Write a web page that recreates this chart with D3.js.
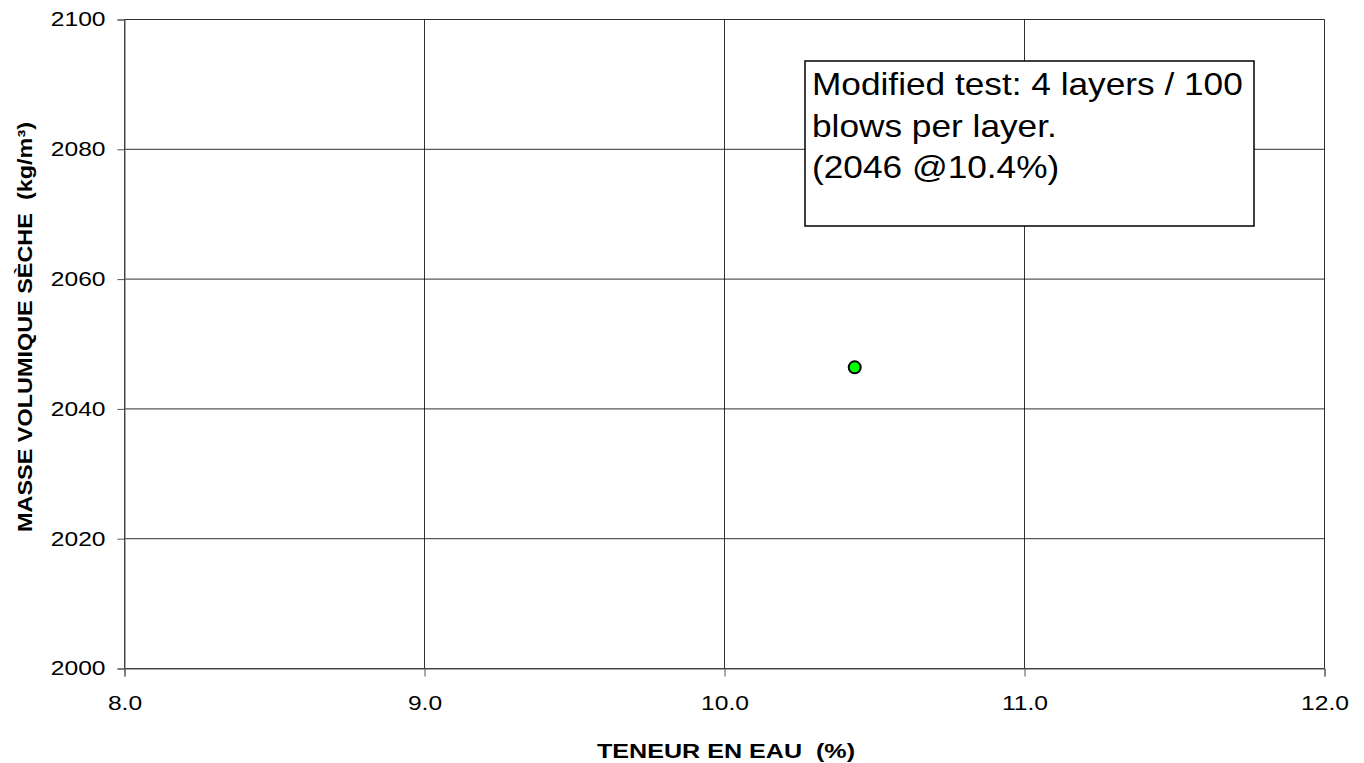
<!DOCTYPE html>
<html><head><meta charset="utf-8">
<script src="https://cdn.jsdelivr.net/npm/d3@7"></script>
<style>body{margin:0;background:#fff}svg{display:block}</style>
</head><body>
<svg id="c" width="1364" height="763"></svg>
<script>
const xTicks = [8.0, 9.0, 10.0, 11.0, 12.0];
const yTicks = [2000, 2020, 2040, 2060, 2080, 2100];
const waterContent = [10.434];
const dryDensity = [2046.4];
const noteLines = ["Modified test: 4 layers / 100", "blows per layer.", "(2046 @10.4%)"];
const xTitle = "TENEUR EN EAU\u00a0\u00a0(%)";
const yTitle = "MASSE VOLUMIQUE SÈCHE\u00a0\u00a0(kg/m³)";

const svg = d3.select("#c");
const L = 124.5, R = 1324.5, T = 19.5, B = 668.5;
const x = d3.scaleLinear().domain([8, 12]).range([L, R]);
const y = d3.scaleLinear().domain([2000, 2100]).range([B, T]);
const font = "Arial, 'Liberation Sans', sans-serif";

function stretch(sel, k) {
  sel.each(function () {
    const len = this.getComputedTextLength();
    d3.select(this).attr("textLength", len * k).attr("lengthAdjust", "spacingAndGlyphs");
  });
}

// grid
svg.append("g").selectAll("line").data(xTicks).join("line")
  .attr("x1", d => x(d)).attr("x2", d => x(d)).attr("y1", T).attr("y2", B)
  .attr("stroke", "#000").attr("stroke-width", 1).attr("opacity", 0.8);
svg.append("g").selectAll("line").data(yTicks).join("line")
  .attr("x1", L).attr("x2", R).attr("y1", d => y(d)).attr("y2", d => y(d))
  .attr("stroke", "#000").attr("stroke-width", 1).attr("opacity", 0.8);

// axes
const xAxis = d3.axisBottom(x).tickValues(xTicks).tickFormat(d3.format(".1f")).tickSizeOuter(0).tickSize(8).tickPadding(19);
const gx = svg.append("g").attr("transform", `translate(0,${B})`).call(xAxis);
const yAxis = d3.axisLeft(y).tickValues(yTicks).tickFormat(d3.format("d")).tickSizeOuter(0).tickSize(7).tickPadding(12);
const gy = svg.append("g").attr("transform", `translate(${L},0)`).call(yAxis);
[gx, gy].forEach(g => {
  g.select(".domain").attr("stroke", "#555");
  g.selectAll(".tick line").attr("stroke", "#555");
  g.selectAll("text").attr("font-family", font).attr("font-size", 20).attr("fill", "#000");
  stretch(g.selectAll("text"), 1.23);
});

// titles
const xt = svg.append("text").attr("x", 726).attr("y", 757.5).attr("text-anchor", "middle")
  .attr("font-family", font).attr("font-size", 20.5).attr("font-weight", "bold").text(xTitle);
xt.attr("textLength", 258).attr("lengthAdjust", "spacingAndGlyphs");
const yt = svg.append("text").attr("transform", `translate(31.5,327) rotate(-90)`).attr("text-anchor", "middle")
  .attr("font-family", font).attr("font-size", 19.5).attr("font-weight", "bold").text(yTitle);
yt.attr("textLength", 410).attr("lengthAdjust", "spacingAndGlyphs");

// note box
svg.append("rect").attr("x", 805).attr("y", 61).attr("width", 449).attr("height", 165)
  .attr("fill", "#fff").attr("stroke", "#000").attr("stroke-width", 1.5);
const nt = svg.append("g").selectAll("text").data(noteLines).join("text")
  .attr("x", 812).attr("y", (d, i) => 95 + i * 41.7)
  .attr("font-family", font).attr("font-size", 30.5).attr("fill", "#000").text(d => d);
stretch(nt, 1.155);

// point
svg.append("g").selectAll("circle").data(waterContent).join("circle")
  .attr("cx", (d) => x(d)).attr("cy", (d, i) => y(dryDensity[i])).attr("r", 6)
  .attr("fill", "#00ff00").attr("stroke", "#000").attr("stroke-width", 2);
</script>
</body></html>
